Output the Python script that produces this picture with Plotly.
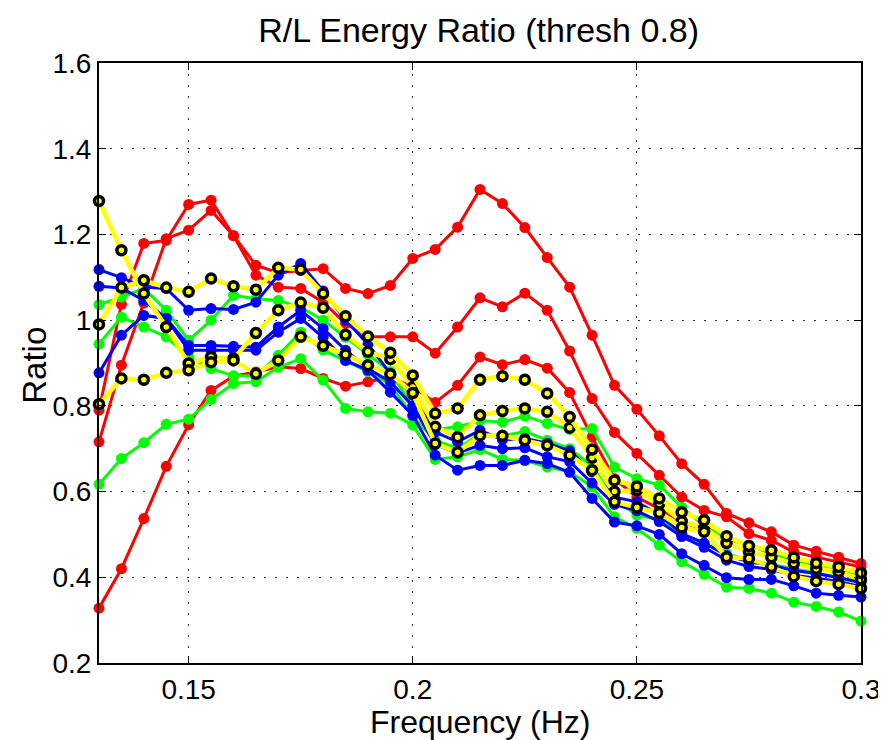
import plotly.graph_objects as go

freq = [round(0.13 + 0.005 * i, 3) for i in range(35)]

red_1 = [0.790, 1.037, 1.179, 1.186, 1.270, 1.280, 1.197, 1.128, 1.110, 1.116, 1.120, 1.074, 1.062, 1.081, 1.144, 1.165, 1.217, 1.305, 1.272, 1.216, 1.146, 1.077, 0.965, 0.848, 0.792, 0.730, 0.665, 0.617, 0.549, 0.527, 0.506, 0.475, 0.461, 0.447, 0.432]
red_2 = [0.716, 0.895, 1.040, 1.190, 1.210, 1.256, 1.197, 1.105, 1.077, 1.074, 1.042, 0.992, 0.961, 0.961, 0.961, 0.923, 0.984, 1.052, 1.031, 1.063, 1.023, 0.928, 0.817, 0.738, 0.689, 0.638, 0.587, 0.556, 0.541, 0.502, 0.486, 0.459, 0.447, 0.436, 0.424]
red_3 = [0.328, 0.420, 0.537, 0.659, 0.756, 0.836, 0.869, 0.879, 0.891, 0.887, 0.864, 0.846, 0.856, 0.867, 0.844, 0.808, 0.848, 0.914, 0.896, 0.908, 0.888, 0.831, 0.727, 0.630, 0.587, 0.560, 0.530, 0.510, 0.490, 0.475, 0.460, 0.445, 0.435, 0.420, 0.410]

green_1 = [1.036, 1.054, 1.074, 1.023, 0.953, 1.000, 1.058, 1.050, 1.046, 1.030, 1.000, 0.960, 0.920, 0.880, 0.797, 0.745, 0.751, 0.766, 0.762, 0.776, 0.759, 0.745, 0.747, 0.657, 0.630, 0.615, 0.563, 0.520, 0.490, 0.475, 0.455, 0.440, 0.428, 0.418, 0.405]
green_2 = [0.944, 1.007, 0.984, 0.961, 0.914, 0.887, 0.870, 0.870, 0.918, 0.972, 0.930, 0.905, 0.880, 0.850, 0.775, 0.720, 0.700, 0.735, 0.730, 0.740, 0.720, 0.700, 0.660, 0.580, 0.545, 0.535, 0.500, 0.480, 0.455, 0.440, 0.430, 0.420, 0.410, 0.400, 0.390]
green_3 = [0.617, 0.677, 0.714, 0.757, 0.769, 0.815, 0.852, 0.856, 0.890, 0.910, 0.860, 0.794, 0.786, 0.783, 0.755, 0.675, 0.681, 0.698, 0.675, 0.673, 0.657, 0.646, 0.611, 0.541, 0.514, 0.475, 0.436, 0.407, 0.377, 0.374, 0.363, 0.342, 0.332, 0.319, 0.298]

blue_1 = [1.118, 1.099, 1.077, 1.074, 1.023, 1.027, 1.025, 1.042, 1.105, 1.132, 1.068, 1.000, 0.944, 0.875, 0.825, 0.739, 0.716, 0.743, 0.721, 0.724, 0.713, 0.695, 0.646, 0.587, 0.576, 0.545, 0.502, 0.480, 0.451, 0.436, 0.428, 0.416, 0.409, 0.399, 0.387]
blue_2 = [1.079, 1.075, 1.046, 1.004, 0.941, 0.941, 0.939, 0.937, 0.984, 1.023, 0.980, 0.930, 0.887, 0.856, 0.800, 0.710, 0.690, 0.708, 0.700, 0.702, 0.681, 0.670, 0.620, 0.570, 0.555, 0.530, 0.495, 0.470, 0.440, 0.425, 0.418, 0.405, 0.398, 0.390, 0.378]
blue_3 = [0.877, 0.965, 1.011, 1.004, 0.930, 0.930, 0.931, 0.930, 0.972, 1.004, 0.960, 0.906, 0.883, 0.832, 0.778, 0.685, 0.650, 0.661, 0.661, 0.673, 0.665, 0.645, 0.584, 0.529, 0.520, 0.500, 0.455, 0.428, 0.399, 0.395, 0.395, 0.380, 0.363, 0.358, 0.354]

yellow_1 = [1.278, 1.163, 1.062, 0.984, 0.899, 0.914, 0.910, 0.970, 1.023, 1.041, 1.029, 0.966, 0.926, 0.909, 0.844, 0.751, 0.727, 0.778, 0.788, 0.794, 0.786, 0.749, 0.679, 0.600, 0.603, 0.572, 0.531, 0.515, 0.480, 0.460, 0.447, 0.432, 0.420, 0.413, 0.395]
yellow_2 = [0.990, 1.076, 1.093, 1.076, 1.066, 1.097, 1.079, 1.071, 1.122, 1.118, 1.062, 1.009, 0.962, 0.924, 0.871, 0.782, 0.794, 0.861, 0.869, 0.861, 0.829, 0.774, 0.698, 0.626, 0.612, 0.584, 0.552, 0.533, 0.496, 0.473, 0.463, 0.446, 0.433, 0.424, 0.410]
yellow_3 = [0.804, 0.864, 0.861, 0.877, 0.883, 0.902, 0.906, 0.875, 0.906, 0.961, 0.940, 0.920, 0.895, 0.874, 0.830, 0.712, 0.692, 0.731, 0.730, 0.720, 0.708, 0.685, 0.650, 0.576, 0.563, 0.550, 0.516, 0.506, 0.447, 0.444, 0.424, 0.402, 0.391, 0.384, 0.374]

x_tickvals = [0.15, 0.2, 0.25, 0.3]
x_ticktext = ["0.15", "0.2", "0.25", "0.3"]
y_tickvals = [0.2, 0.4, 0.6, 0.8, 1.0, 1.2, 1.4, 1.6]
y_ticktext = ["0.2", "0.4", "0.6", "0.8", "1", "1.2", "1.4", "1.6"]

FONT = "Liberation Sans, Arial, Helvetica, sans-serif"

fig = go.Figure()

def filled(y, color):
    fig.add_trace(go.Scatter(
        x=freq, y=y, mode="lines+markers", cliponaxis=False,
        line=dict(color=color, width=3),
        marker=dict(color=color, size=11, symbol="circle"),
        showlegend=False))

def ringed(y):
    fig.add_trace(go.Scatter(
        x=freq, y=y, mode="lines+markers", cliponaxis=False,
        line=dict(color="#ffff00", width=4.5),
        marker=dict(color="#ffff00", size=9, symbol="circle",
                    line=dict(color="black", width=3.5)),
        showlegend=False))

for s in (red_1, red_2, red_3):
    filled(s, "#ff0000")
for s in (green_1, green_2, green_3):
    filled(s, "#00ff00")
for s in (blue_1, blue_2, blue_3):
    filled(s, "#0000ff")
for s in (yellow_1, yellow_2, yellow_3):
    ringed(s)

axis_common = dict(
    showline=True, linecolor="black", linewidth=2, mirror="allticks",
    ticks="inside", ticklen=7, tickwidth=1, tickcolor="black",
    showgrid=True, gridcolor="#333333", gridwidth=1, griddash="2px,9px",
    zeroline=False, automargin=False,
    tickfont=dict(family=FONT, size=28, color="black"),
)

fig.update_xaxes(range=[0.13, 0.3], tickvals=x_tickvals, ticktext=x_ticktext, **axis_common)
fig.update_yaxes(range=[0.2, 1.6], tickvals=y_tickvals, ticktext=y_ticktext, **axis_common)

# the page body adds an 8px offset, so the figure is sized to the remaining window
fig.update_layout(
    width=878, height=732,
    margin=dict(l=91, r=25, t=55, b=77),
    paper_bgcolor="white", plot_bgcolor="white",
    title=dict(text="R/L Energy Ratio (thresh 0.8)", x=0.536, xanchor="center",
               y=0.97, yanchor="middle",
               font=dict(family=FONT, size=34, color="black")),
    annotations=[
        dict(text="Frequency (Hz)", xref="paper", yref="paper", x=0.5, y=-0.098,
             xanchor="center", yanchor="middle", showarrow=False,
             font=dict(family=FONT, size=32, color="black")),
        dict(text="Ratio", xref="paper", yref="paper", x=-0.084, y=0.497,
             xanchor="center", yanchor="middle", showarrow=False, textangle=-90,
             font=dict(family=FONT, size=33, color="black")),
    ],
)

fig.write_html("out.html")
